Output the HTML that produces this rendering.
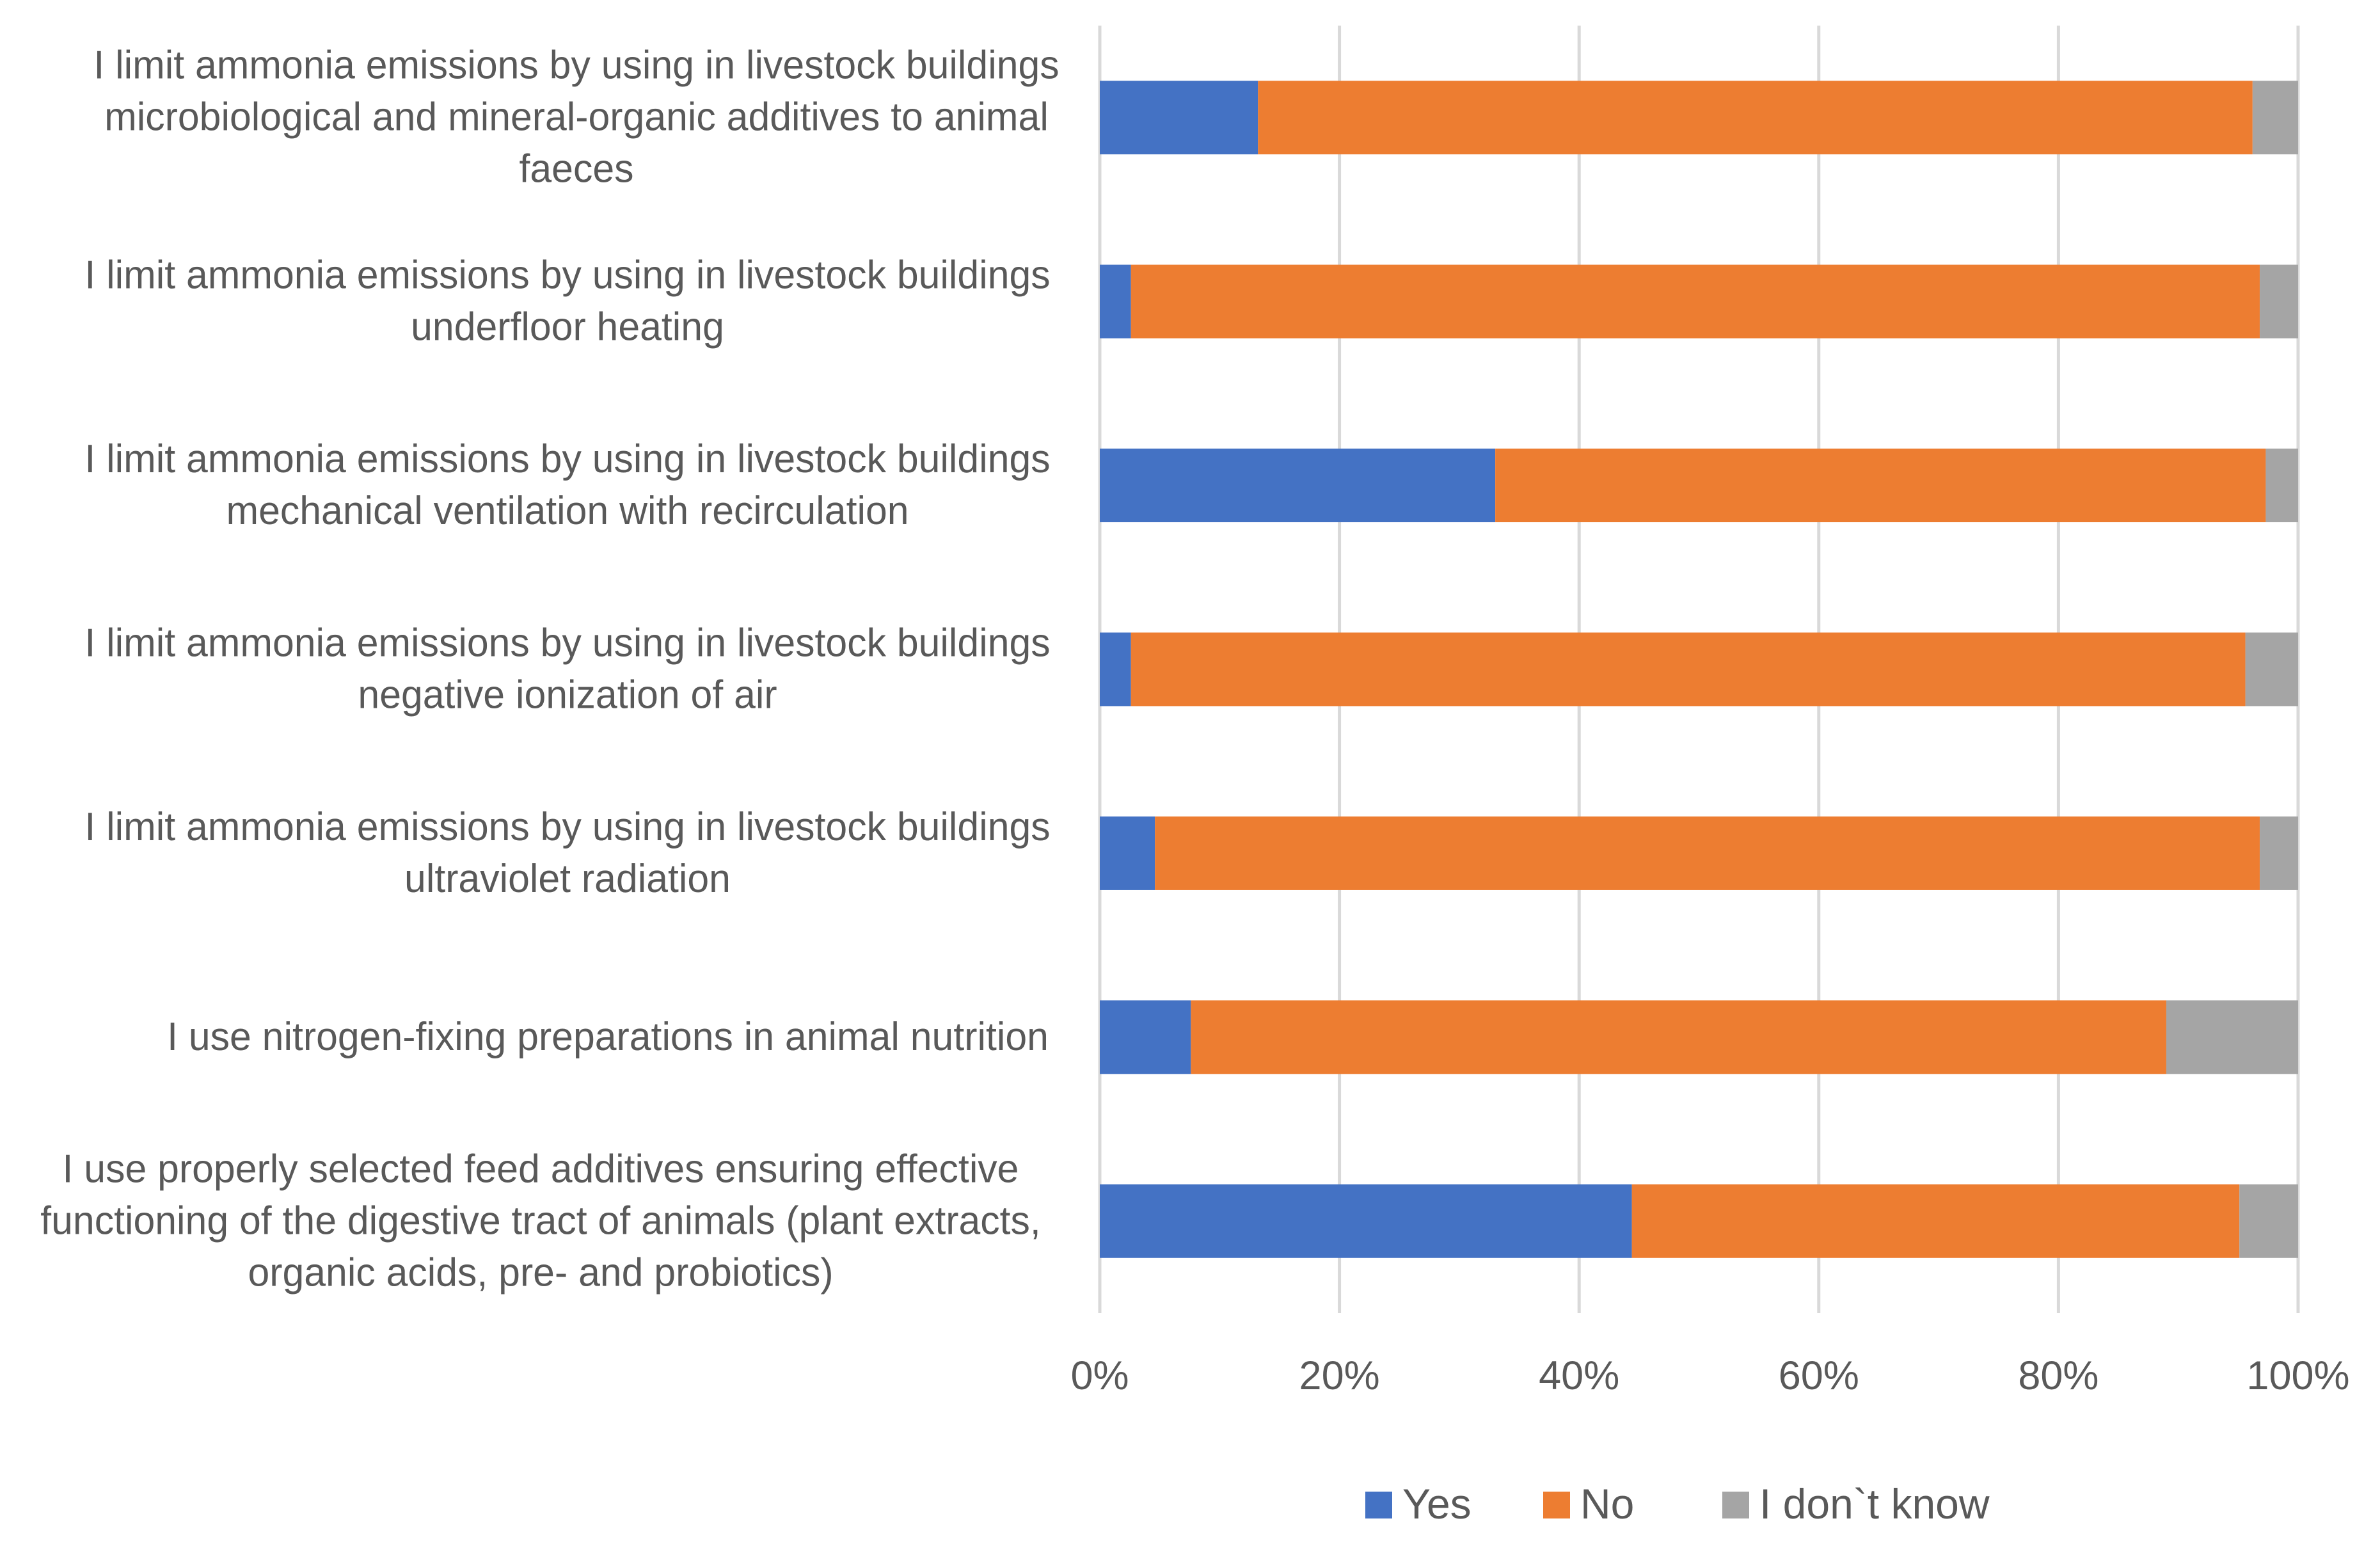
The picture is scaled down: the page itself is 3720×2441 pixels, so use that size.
<!DOCTYPE html>
<html><head><meta charset="utf-8"><style>
html,body{margin:0;padding:0;background:#fff;}
svg{display:block;font-family:"Liberation Sans",sans-serif;}
</style></head><body>
<svg id="chart" width="3720" height="2441" viewBox="0 0 3720 2441" xmlns="http://www.w3.org/2000/svg">
<rect width="3720" height="2441" fill="#fff"/>
<g id="grid"></g><g id="bars"></g><g id="labels"></g><g id="ticks"></g><g id="legend"></g>
</svg>
<script>
const categories = [
 ["I limit ammonia emissions by using in livestock buildings","microbiological and mineral-organic additives to animal","faeces"],
 ["I limit ammonia emissions by using in livestock buildings","underfloor heating"],
 ["I limit ammonia emissions by using in livestock buildings","mechanical ventilation with recirculation"],
 ["I limit ammonia emissions by using in livestock buildings","negative ionization of air"],
 ["I limit ammonia emissions by using in livestock buildings","ultraviolet radiation"],
 ["I use nitrogen-fixing preparations in animal nutrition"],
 ["I use properly selected feed additives ensuring effective","functioning of the digestive tract of animals (plant extracts,","organic acids, pre- and probiotics)"]
];
const yesValues = [13.2, 2.6, 33.0, 2.6, 4.6, 7.6, 44.4];
const noValues = [83.0, 94.2, 64.3, 93.0, 92.2, 81.4, 50.7];
const dkValues = [3.8, 3.2, 2.7, 4.4, 3.2, 11.0, 4.9];
const tickValues = [0, 20, 40, 60, 80, 100];
const tickLabels = ["0%","20%","40%","60%","80%","100%"];
const seriesNames = ["Yes","No","I don`t know"];
const colors = ["#4472C4","#ED7D31","#A5A5A5"];
const labelCenters = [901, 887, 887, 887, 887, 950, 845];

const NS="http://www.w3.org/2000/svg";
const X0=1719, X1=3592, TOP=40, BOT=2052;
const band=(BOT-TOP)/categories.length, barH=115;
const xs=v=>X0+(X1-X0)*v/100;
const yc=i=>TOP+band*(i+0.5);
function mk(tag,attrs,parent){const e=document.createElementNS(NS,tag);for(const k in attrs)e.setAttribute(k,attrs[k]);parent.appendChild(e);return e;}
const grid=document.getElementById('grid'),bars=document.getElementById('bars'),labels=document.getElementById('labels'),ticks=document.getElementById('ticks'),legend=document.getElementById('legend');

tickValues.forEach((t,i)=>{
 const l=mk('line',{x1:xs(t),x2:xs(t),y1:TOP,y2:BOT,stroke:'#D9D9D9','stroke-width':5},grid);
 
 
 const tx=mk('text',{x:xs(t),y:2171,'text-anchor':'middle','font-size':63,fill:'#595959'},ticks);
 tx.textContent=tickLabels[i];
 
 
});

const series=[yesValues,noValues,dkValues];
categories.forEach((lines,i)=>{
 let acc=0;
 series.forEach((vals,s)=>{
  const r=mk('rect',{x:xs(acc),y:yc(i)-barH/2,width:xs(acc+vals[i])-xs(acc),height:barH,fill:colors[s]},bars);
  
  
  acc+=vals[i];
 });
 const g=mk('g',{transform:`translate(${labelCenters[i]},0) scale(0.98,1)`},labels);
 
 
 const n=lines.length;
 lines.forEach((ln,k)=>{
  const t=mk('text',{x:0,y:yc(i)+20+(k-(n-1)/2)*81,'text-anchor':'middle','font-size':62,fill:'#595959'},g);
  t.textContent=ln;
 });
});

const legX=[2134,2412,2692];
seriesNames.forEach((nm,s)=>{
 const g=mk('g',{},legend);
 
 
 mk('rect',{x:legX[s],y:2331,width:42,height:42,fill:colors[s]},g);
 const t=mk('text',{x:legX[s]+58,y:2373,'font-size':66,fill:'#595959'},g);
 t.textContent=nm;
});
</script>
</body></html>
